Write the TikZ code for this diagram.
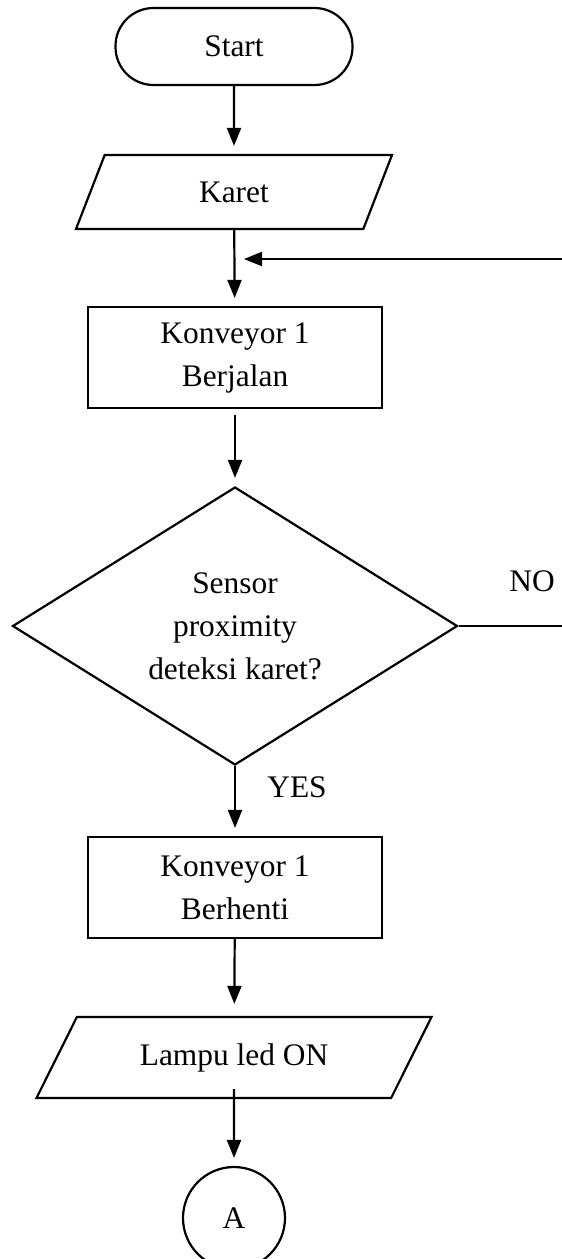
\documentclass[tikz,border=0pt]{standalone}
\usepackage{fontspec}
\setmainfont{Liberation Serif}
\usetikzlibrary{shapes.geometric,arrows.meta}
\tikzset{
	every node/.style={font=\fontsize{15.7}{21.5}\selectfont, align=center},
	terminal/.style={draw, line width=1.1pt, rectangle, rounded corners=19pt, minimum width=118.5pt, minimum height=38.5pt},
	process/.style={draw, line width=1.1pt, rectangle, minimum width=147pt, minimum height=50.5pt},
	decision/.style={draw, line width=1.1pt, diamond, aspect=1.6, inner sep=0pt, minimum width=222.5pt, minimum height=139pt},
	iobox/.style={draw, line width=1.1pt, trapezium, trapezium stretches body, inner xsep=0pt},
	connector/.style={draw, line width=1.1pt, circle, inner sep=0pt, minimum size=51pt},
	flow/.style={-{Triangle[length=9pt,width=7pt]}, line width=1.1pt, shorten >=4pt}
}

\begin{document}
\begin{tikzpicture}[x=0.5pt, y=-0.5pt]
	\useasboundingbox (0,0) rectangle (562,1259);
	
	\node [terminal] (start) at (234,46.5) {Start};
	\node [iobox, trapezium left angle=50, trapezium right angle=130, minimum width=158pt, minimum height=37pt] (karet) at (234,192) {Karet};
	\node [process] (jalan) at (235,357.5) {Konveyor 1\\Berjalan};
	\node [decision] (sensor) at (235,626) {Sensor\\proximity\\deteksi karet?};
	\node [process] (henti) at (235,887.5) {Konveyor 1\\Berhenti};
	\node [iobox, trapezium left angle=46, trapezium right angle=134, minimum width=197.5pt, minimum height=40.5pt] (lampu) at (234,1057.5) {Lampu led ON};
	\node [connector] (a) at (234,1218) {A};
	
	\node (no) at (532,581) {NO};
	\node (yes) at (297,787) {YES};
	
	\coordinate (back) at (562,259);
	\coordinate (loopin) at (234,259);
	\coordinate (noend) at (562,626);
	
	\draw [flow] (start) -- (karet);
	\draw [flow] (karet) -- (jalan);
	\draw [flow, shorten <=3pt] (jalan) -- (sensor);
	\draw [flow] (sensor) -- (henti);
	\draw [flow, shorten >=6pt] (henti) -- (lampu);
	\draw [flow, shorten <=-5pt] (lampu) -- (a);
	\draw [line width=1.1pt] (sensor.east) -- (noend);
	\draw [flow, shorten >=5pt] (back) -- (loopin);
\end{tikzpicture}
\end{document}
